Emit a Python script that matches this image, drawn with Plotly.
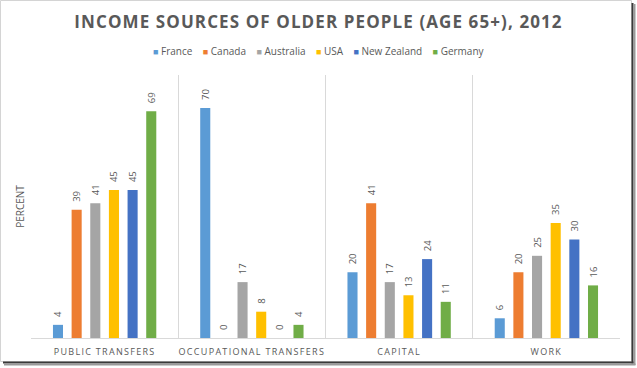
import plotly.graph_objects as go

categories = ["PUBLIC TRANSFERS", "OCCUPATIONAL TRANSFERS", "CAPITAL", "WORK"]
countries = ["France", "Canada", "Australia", "USA", "New Zealand", "Germany"]
france = [4, 70, 20, 6]
canada = [39, 0, 41, 20]
australia = [41, 17, 17, 25]
usa = [45, 8, 13, 35]
new_zealand = [45, 0, 24, 30]
germany = [69, 4, 11, 16]
series_values = [france, canada, australia, usa, new_zealand, germany]
colors = ["#5B9BD5", "#ED7D31", "#A5A5A5", "#FFC000", "#4472C4", "#70AD47"]

W, H = 637, 368
L, R, T, B = 31, 620, 75, 338
TXT = "#595959"
FONT = "Open Sans"


def px(x):
    return (x - L) / (R - L)


def py(y):
    return (B - y) / (B - T)


fig = go.Figure()
for name, vals, col in zip(countries, series_values, colors):
    fig.add_trace(go.Bar(
        name=name, x=categories, y=vals,
        marker=dict(color=col, line=dict(width=0)),
        texttemplate="\u00a0\u00a0%{y}",
        textposition="outside", textangle=-90, constraintext="none",
        textfont=dict(size=9.5, color=TXT, family=FONT),
        cliponaxis=False, showlegend=False,
    ))

# legend line built from the series names and colours
legend_text = "\u00a0\u00a0\u00a0\u00a0".join(
    '<span style="color:%s;font-size:9px">■</span>\u00a0%s' % (c, n)
    for n, c in zip(countries, colors)
)

shapes = []
shapes.append(dict(type="rect", xref="paper", yref="paper",
                   x0=px(0.5), x1=px(631.5), y0=py(0.5), y1=py(361.5),
                   line=dict(color="#D4D4D4", width=1), fillcolor="rgba(0,0,0,0)", layer="below"))
shapes.append(dict(type="line", xref="paper", yref="paper",
                   x0=px(632.5), x1=px(632.5), y0=py(3), y1=py(363.5),
                   line=dict(color="#3A3A3A", width=2)))
shapes.append(dict(type="line", xref="paper", yref="paper",
                   x0=px(634.5), x1=px(634.5), y0=py(4), y1=py(365),
                   line=dict(color="#9A9A9A", width=2)))
shapes.append(dict(type="line", xref="paper", yref="paper",
                   x0=px(3), x1=px(633.5), y0=py(362.5), y1=py(362.5),
                   line=dict(color="#3A3A3A", width=2)))
shapes.append(dict(type="line", xref="paper", yref="paper",
                   x0=px(4), x1=px(635.5), y0=py(364.5), y1=py(364.5),
                   line=dict(color="#9A9A9A", width=2)))

fig.update_layout(
    width=W, height=H,
    margin=dict(l=L, r=W - R, t=T, b=H - B, pad=0),
    paper_bgcolor="white", plot_bgcolor="white",
    font=dict(family=FONT, color=TXT),
    title=dict(
        text='<span style="letter-spacing:1.1px"><b>INCOME SOURCES OF OLDER PEOPLE (AGE 65+), 2012</b></span>',
        x=0.5, xref="container", xanchor="center",
        y=1 - 22 / H, yref="container", yanchor="middle",
        font=dict(size=17, color="#595959", family=FONT),
    ),
    annotations=[dict(
        text=legend_text, xref="paper", yref="paper",
        x=px(319), y=py(51), xanchor="center", yanchor="middle",
        showarrow=False, font=dict(size=10, color=TXT, family=FONT),
    )],
    barmode="group", bargap=0.24, bargroupgap=0.46,
    xaxis=dict(
        tickvals=categories,
        ticktext=['<span style="letter-spacing:1.3px">%s</span>' % c for c in categories],
        tickfont=dict(size=9, color=TXT, family=FONT), tickangle=0,
        showline=True, linecolor="#D9D9D9", linewidth=1,
        tickson="boundaries", showgrid=True, gridcolor="#D9D9D9", gridwidth=1,
        ticks="", ticklabelstandoff=5, automargin=False,
    ),
    yaxis=dict(
        range=[0, 80], showticklabels=False, showgrid=False, zeroline=False,
        showline=False, ticks="", automargin=False,
        title=dict(text="PERCENT", font=dict(size=10, color=TXT, family=FONT), standoff=3),
    ),
    shapes=shapes,
    showlegend=False,
)

fig.write_html(
    "out.html",
    config={"displayModeBar": False},
    post_script="document.body.style.margin='0';document.body.style.overflow='hidden';",
)
